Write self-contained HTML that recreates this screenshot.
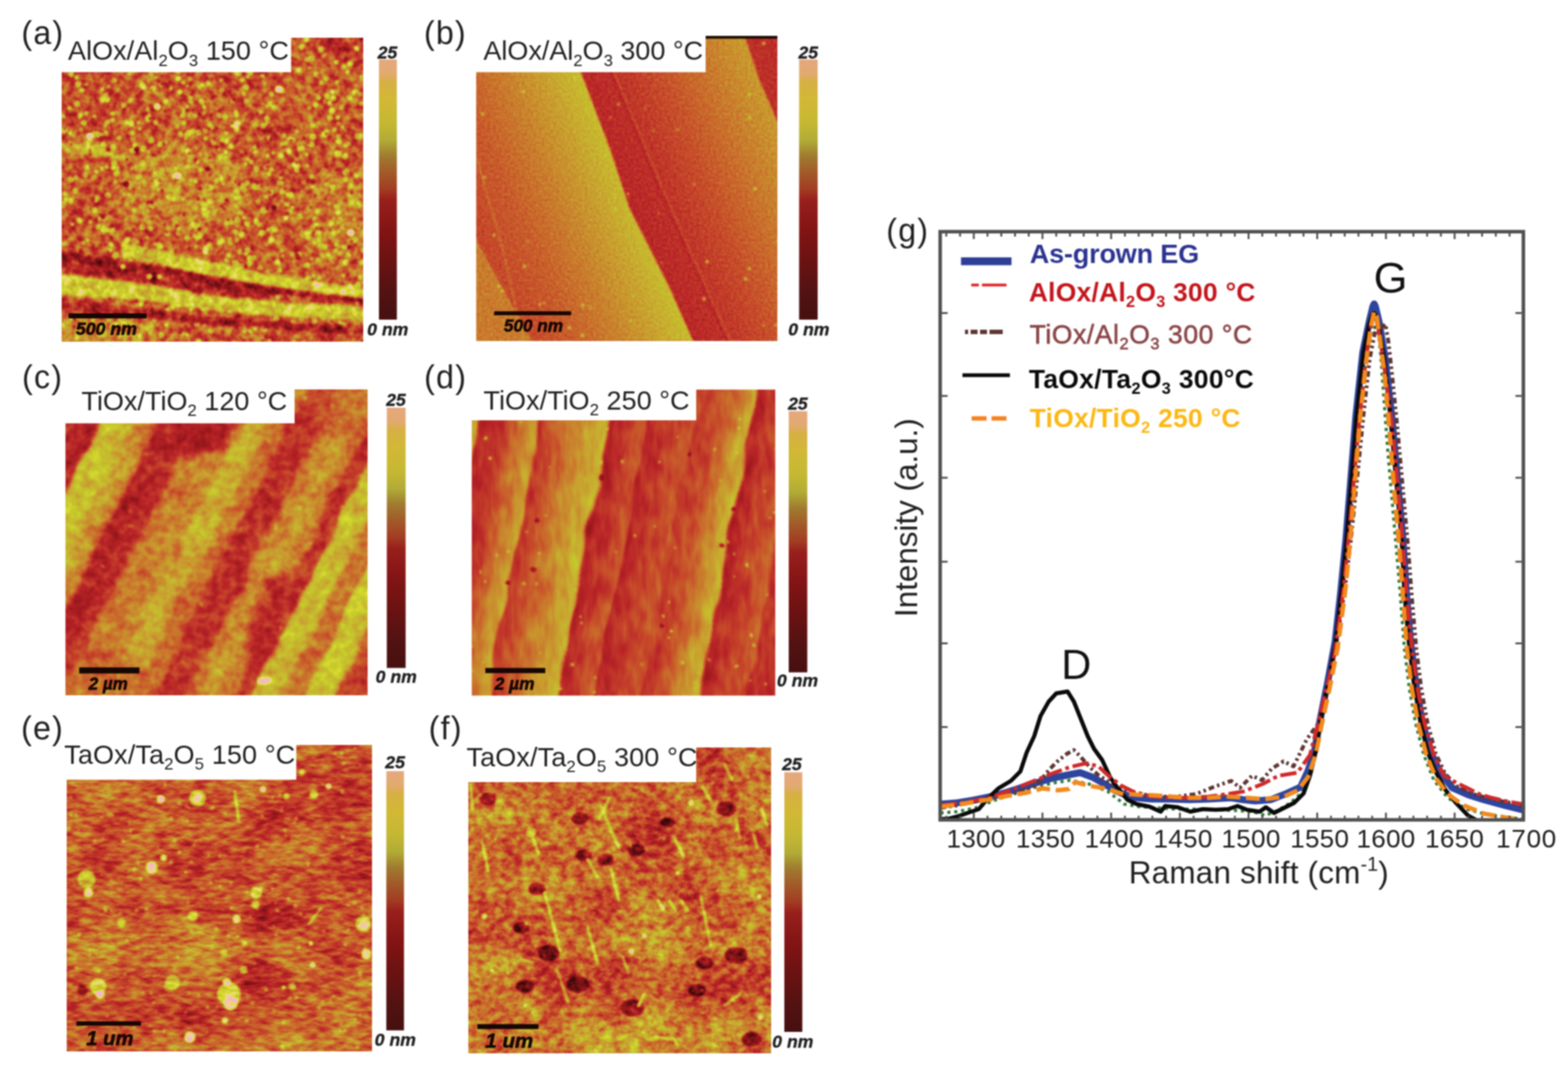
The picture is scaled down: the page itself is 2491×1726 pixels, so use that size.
<!DOCTYPE html>
<html lang="en"><head><meta charset="utf-8"><title>AFM and Raman figure</title>
<style>html,body{margin:0;padding:0;background:#fff}body{width:2491px;height:1726px;overflow:hidden}svg{display:block}text{font-family:'Liberation Sans', Arial, Helvetica, sans-serif;fill:#202020}</style></head><body>
<svg width="2491" height="1726" viewBox="0 0 2491 1726" role="img" aria-label="AFM images of oxide films on epitaxial graphene and Raman spectra">
<defs>
<filter id="gsoft" x="0" y="0" width="2491" height="1726" filterUnits="userSpaceOnUse" color-interpolation-filters="sRGB"><feGaussianBlur stdDeviation="0.9"/></filter>
<linearGradient id="cbar" x1="0" y1="0" x2="0" y2="1"><stop offset="0" stop-color="#e6a87e"/><stop offset="0.055" stop-color="#e2aa70"/><stop offset="0.085" stop-color="#d6b044"/><stop offset="0.15" stop-color="#d2b836"/><stop offset="0.24" stop-color="#c6b832"/><stop offset="0.31" stop-color="#b2ac36"/><stop offset="0.37" stop-color="#a07c30"/><stop offset="0.43" stop-color="#a25c2a"/><stop offset="0.50" stop-color="#a23c22"/><stop offset="0.54" stop-color="#98201c"/><stop offset="0.66" stop-color="#821414"/><stop offset="0.80" stop-color="#661212"/><stop offset="0.90" stop-color="#521212"/><stop offset="1" stop-color="#461010"/></linearGradient>
<filter id="soft2" x="-10%" y="-10%" width="120%" height="120%" color-interpolation-filters="sRGB"><feGaussianBlur stdDeviation="2"/></filter><filter id="soft3" x="-10%" y="-10%" width="120%" height="120%" color-interpolation-filters="sRGB"><feGaussianBlur stdDeviation="3"/></filter><filter id="soft5" x="-10%" y="-10%" width="120%" height="120%" color-interpolation-filters="sRGB"><feGaussianBlur stdDeviation="5"/></filter><filter id="soft8" x="-10%" y="-10%" width="120%" height="120%" color-interpolation-filters="sRGB"><feGaussianBlur stdDeviation="8"/></filter><filter id="soft30" x="-10%" y="-10%" width="120%" height="120%" color-interpolation-filters="sRGB"><feGaussianBlur stdDeviation="30"/></filter><filter id="fa" x="-40" y="-40" width="559" height="563" filterUnits="userSpaceOnUse" color-interpolation-filters="sRGB">
<feGaussianBlur in="SourceGraphic" stdDeviation="1.25" result="src"/>
<feTurbulence type="fractalNoise" baseFrequency="0.085" numOctaves="2" seed="7" result="n"/>
<feColorMatrix in="n" type="matrix" values="1 0 0 0 0  1 0 0 0 0  1 0 0 0 0  0 0 0 0 1" result="ng0"/>
<feColorMatrix in="ng0" type="matrix" values="1 0 0 0 0  0 1 0 0 0  0 0 1 0 0  0 0 0 1 0" result="ng"/>
<feComposite in="src" in2="ng" operator="arithmetic" k1="0" k2="1" k3="0.583" k4="-0.292" result="h1"/>
<feTurbulence type="fractalNoise" baseFrequency="0.025" numOctaves="2" seed="19" result="n2"/>
<feColorMatrix in="n2" type="matrix" values="1 0 0 0 0  1 0 0 0 0  1 0 0 0 0  0 0 0 0 1" result="ng2"/>
<feComposite in="h1" in2="ng2" operator="arithmetic" k1="0" k2="1" k3="0.292" k4="-0.146" result="h2"/>
<feGaussianBlur in="h2" stdDeviation="0.75" result="hb"/>
<feComponentTransfer in="hb"><feFuncR type="table" tableValues="0.220 0.286 0.353 0.427 0.502 0.569 0.635 0.682 0.729 0.753 0.776 0.784 0.792 0.792 0.792 0.788 0.784 0.780 0.776 0.820 0.863 0.902 0.941 0.949 0.957"/><feFuncG type="table" tableValues="0.031 0.043 0.055 0.067 0.078 0.090 0.102 0.125 0.149 0.212 0.275 0.345 0.416 0.486 0.557 0.620 0.682 0.733 0.784 0.824 0.863 0.855 0.847 0.784 0.722"/><feFuncB type="table" tableValues="0.031 0.047 0.063 0.078 0.094 0.106 0.118 0.137 0.157 0.161 0.165 0.169 0.173 0.176 0.180 0.184 0.188 0.180 0.173 0.180 0.188 0.376 0.565 0.659 0.753"/><feFuncA type="linear" slope="0" intercept="1"/></feComponentTransfer>
</filter>
<filter id="fb" x="-40" y="-40" width="558.5" height="565" filterUnits="userSpaceOnUse" color-interpolation-filters="sRGB">
<feGaussianBlur in="SourceGraphic" stdDeviation="1.6" result="src"/>
<feTurbulence type="fractalNoise" baseFrequency="0.22" numOctaves="2" seed="3" result="n"/>
<feColorMatrix in="n" type="matrix" values="1 0 0 0 0  1 0 0 0 0  1 0 0 0 0  0 0 0 0 1" result="ng0"/>
<feColorMatrix in="ng0" type="matrix" values="1 0 0 0 0  0 1 0 0 0  0 0 1 0 0  0 0 0 1 0" result="ng"/>
<feComposite in="src" in2="ng" operator="arithmetic" k1="0" k2="1" k3="0.167" k4="-0.083" result="h1"/>
<feComponentTransfer in="h1"><feFuncR type="table" tableValues="0.220 0.286 0.353 0.427 0.502 0.569 0.635 0.682 0.729 0.753 0.776 0.784 0.792 0.792 0.792 0.788 0.784 0.780 0.776 0.820 0.863 0.902 0.941 0.949 0.957"/><feFuncG type="table" tableValues="0.031 0.043 0.055 0.067 0.078 0.090 0.102 0.125 0.149 0.212 0.275 0.345 0.416 0.486 0.557 0.620 0.682 0.733 0.784 0.824 0.863 0.855 0.847 0.784 0.722"/><feFuncB type="table" tableValues="0.031 0.047 0.063 0.078 0.094 0.106 0.118 0.137 0.157 0.161 0.165 0.169 0.173 0.176 0.180 0.184 0.188 0.180 0.173 0.180 0.188 0.376 0.565 0.659 0.753"/><feFuncA type="linear" slope="0" intercept="1"/></feComponentTransfer>
</filter><linearGradient id="bL" gradientUnits="userSpaceOnUse" x1="-20" y1="340" x2="290" y2="211"><stop offset="0" stop-color="#646464"/><stop offset="0.3" stop-color="#777777"/><stop offset="0.5" stop-color="#8c8c8c"/><stop offset="0.68" stop-color="#a2a2a2"/><stop offset="0.82" stop-color="#b5b5b5"/><stop offset="1" stop-color="#c8c8c8"/></linearGradient><linearGradient id="bR" gradientUnits="userSpaceOnUse" x1="225" y1="285" x2="540" y2="154"><stop offset="0" stop-color="#515151"/><stop offset="0.22" stop-color="#5b5b5b"/><stop offset="0.42" stop-color="#6e6e6e"/><stop offset="0.65" stop-color="#888888"/><stop offset="0.85" stop-color="#9d9d9d"/><stop offset="1" stop-color="#aaaaaa"/></linearGradient>
<filter id="fc" x="-40" y="-40" width="559.5" height="565" filterUnits="userSpaceOnUse" color-interpolation-filters="sRGB">
<feGaussianBlur in="SourceGraphic" stdDeviation="2" result="src"/>
<feTurbulence type="fractalNoise" baseFrequency="0.014" numOctaves="2" seed="4" result="dn"/>
<feDisplacementMap in="src" in2="dn" scale="16" xChannelSelector="R" yChannelSelector="G" result="srcd"/>
<feTurbulence type="fractalNoise" baseFrequency="0.07" numOctaves="2" seed="11" result="n"/>
<feColorMatrix in="n" type="matrix" values="1 0 0 0 0  1 0 0 0 0  1 0 0 0 0  0 0 0 0 1" result="ng0"/>
<feColorMatrix in="ng0" type="matrix" values="1 0 0 0 0  0 1 0 0 0  0 0 1 0 0  0 0 0 1 0" result="ng"/>
<feComposite in="srcd" in2="ng" operator="arithmetic" k1="0" k2="1" k3="0.300" k4="-0.150" result="h1"/>
<feTurbulence type="fractalNoise" baseFrequency="0.02" numOctaves="2" seed="5" result="n2"/>
<feColorMatrix in="n2" type="matrix" values="1 0 0 0 0  1 0 0 0 0  1 0 0 0 0  0 0 0 0 1" result="ng2"/>
<feComposite in="h1" in2="ng2" operator="arithmetic" k1="0" k2="1" k3="0.183" k4="-0.092" result="h2"/>
<feComponentTransfer in="h2"><feFuncR type="table" tableValues="0.220 0.286 0.353 0.427 0.502 0.569 0.635 0.682 0.729 0.753 0.776 0.784 0.792 0.792 0.792 0.788 0.784 0.780 0.776 0.820 0.863 0.902 0.941 0.949 0.957"/><feFuncG type="table" tableValues="0.031 0.043 0.055 0.067 0.078 0.090 0.102 0.125 0.149 0.212 0.275 0.345 0.416 0.486 0.557 0.620 0.682 0.733 0.784 0.824 0.863 0.855 0.847 0.784 0.722"/><feFuncB type="table" tableValues="0.031 0.047 0.063 0.078 0.094 0.106 0.118 0.137 0.157 0.161 0.165 0.169 0.173 0.176 0.180 0.184 0.188 0.180 0.173 0.180 0.188 0.376 0.565 0.659 0.753"/><feFuncA type="linear" slope="0" intercept="1"/></feComponentTransfer>
</filter><linearGradient id="cS" gradientUnits="userSpaceOnUse" x1="-400" y1="0" x2="3600" y2="0"><stop offset="0.0000" stop-color="#757575"/><stop offset="0.1150" stop-color="#6a6a6a"/><stop offset="0.1250" stop-color="#515151"/><stop offset="0.1725" stop-color="#515151"/><stop offset="0.1812" stop-color="#bfbfbf"/><stop offset="0.2250" stop-color="#b7b7b7"/><stop offset="0.2500" stop-color="#9d9d9d"/><stop offset="0.2800" stop-color="#8c8c8c"/><stop offset="0.2913" stop-color="#4c4c4c"/><stop offset="0.3500" stop-color="#575757"/><stop offset="0.3613" stop-color="#888888"/><stop offset="0.4375" stop-color="#959595"/><stop offset="0.4500" stop-color="#aaaaaa"/><stop offset="0.4850" stop-color="#a6a6a6"/><stop offset="0.4963" stop-color="#888888"/><stop offset="0.5250" stop-color="#7b7b7b"/><stop offset="0.5337" stop-color="#595959"/><stop offset="0.5875" stop-color="#626262"/><stop offset="0.5988" stop-color="#888888"/><stop offset="0.6375" stop-color="#9d9d9d"/><stop offset="0.6750" stop-color="#848484"/><stop offset="0.6875" stop-color="#5b5b5b"/><stop offset="0.7100" stop-color="#606060"/><stop offset="0.7163" stop-color="#bbbbbb"/><stop offset="0.7625" stop-color="#aeaeae"/><stop offset="0.7750" stop-color="#888888"/><stop offset="0.8100" stop-color="#848484"/><stop offset="0.8163" stop-color="#bfbfbf"/><stop offset="0.8625" stop-color="#b5b5b5"/><stop offset="0.8750" stop-color="#6a6a6a"/><stop offset="1.0000" stop-color="#6a6a6a"/></linearGradient>
<filter id="fd" x="-40" y="-40" width="562.1" height="566.1" filterUnits="userSpaceOnUse" color-interpolation-filters="sRGB">
<feGaussianBlur in="SourceGraphic" stdDeviation="1.6" result="src"/>
<feTurbulence type="fractalNoise" baseFrequency="0.011" numOctaves="2" seed="8" result="dn"/>
<feDisplacementMap in="src" in2="dn" scale="24" xChannelSelector="R" yChannelSelector="G" result="srcd"/>
<feTurbulence type="fractalNoise" baseFrequency="0.09 0.03" numOctaves="2" seed="5" result="n"/>
<feColorMatrix in="n" type="matrix" values="1 0 0 0 0  1 0 0 0 0  1 0 0 0 0  0 0 0 0 1" result="ng0"/>
<feColorMatrix in="ng0" type="matrix" values="1 0 0 0 0  0 1 0 0 0  0 0 1 0 0  0 0 0 1 0" result="ng"/>
<feComposite in="srcd" in2="ng" operator="arithmetic" k1="0" k2="1" k3="0.183" k4="-0.092" result="h1"/>
<feTurbulence type="fractalNoise" baseFrequency="0.02" numOctaves="2" seed="15" result="n2"/>
<feColorMatrix in="n2" type="matrix" values="1 0 0 0 0  1 0 0 0 0  1 0 0 0 0  0 0 0 0 1" result="ng2"/>
<feComposite in="h1" in2="ng2" operator="arithmetic" k1="0" k2="1" k3="0.117" k4="-0.058" result="h2"/>
<feComponentTransfer in="h2"><feFuncR type="table" tableValues="0.220 0.286 0.353 0.427 0.502 0.569 0.635 0.682 0.729 0.753 0.776 0.784 0.792 0.792 0.792 0.788 0.784 0.780 0.776 0.820 0.863 0.902 0.941 0.949 0.957"/><feFuncG type="table" tableValues="0.031 0.043 0.055 0.067 0.078 0.090 0.102 0.125 0.149 0.212 0.275 0.345 0.416 0.486 0.557 0.620 0.682 0.733 0.784 0.824 0.863 0.855 0.847 0.784 0.722"/><feFuncB type="table" tableValues="0.031 0.047 0.063 0.078 0.094 0.106 0.118 0.137 0.157 0.161 0.165 0.169 0.173 0.176 0.180 0.184 0.188 0.180 0.173 0.180 0.188 0.376 0.565 0.659 0.753"/><feFuncA type="linear" slope="0" intercept="1"/></feComponentTransfer>
</filter><linearGradient id="dS" gradientUnits="userSpaceOnUse" x1="-150" y1="0" x2="700" y2="0"><stop offset="0.0000" stop-color="#6a6a6a"/><stop offset="0.1976" stop-color="#a6a6a6"/><stop offset="0.2047" stop-color="#515151"/><stop offset="0.2412" stop-color="#595959"/><stop offset="0.2706" stop-color="#7b7b7b"/><stop offset="0.2941" stop-color="#919191"/><stop offset="0.3129" stop-color="#a2a2a2"/><stop offset="0.3188" stop-color="#5e5e5e"/><stop offset="0.3412" stop-color="#6e6e6e"/><stop offset="0.3706" stop-color="#848484"/><stop offset="0.4000" stop-color="#999999"/><stop offset="0.4400" stop-color="#aeaeae"/><stop offset="0.4471" stop-color="#4c4c4c"/><stop offset="0.4706" stop-color="#5e5e5e"/><stop offset="0.5129" stop-color="#777777"/><stop offset="0.5188" stop-color="#515151"/><stop offset="0.5529" stop-color="#626262"/><stop offset="0.6000" stop-color="#737373"/><stop offset="0.6059" stop-color="#606060"/><stop offset="0.6471" stop-color="#737373"/><stop offset="0.6765" stop-color="#919191"/><stop offset="0.7059" stop-color="#aeaeae"/><stop offset="0.7129" stop-color="#4c4c4c"/><stop offset="0.7365" stop-color="#5e5e5e"/><stop offset="0.7965" stop-color="#7b7b7b"/><stop offset="0.8035" stop-color="#595959"/><stop offset="1.0000" stop-color="#6a6a6a"/></linearGradient>
<filter id="fe" x="-40" y="-40" width="564.5" height="566.5" filterUnits="userSpaceOnUse" color-interpolation-filters="sRGB">
<feGaussianBlur in="SourceGraphic" stdDeviation="1.4" result="src"/>
<feTurbulence type="fractalNoise" baseFrequency="0.05 0.13" numOctaves="3" seed="21" result="n"/>
<feColorMatrix in="n" type="matrix" values="1 0 0 0 0  1 0 0 0 0  1 0 0 0 0  0 0 0 0 1" result="ng0"/>
<feColorMatrix in="ng0" type="matrix" values="1 0 0 0 0  0 1 0 0 0  0 0 1 0 0  0 0 0 1 0" result="ng"/>
<feComposite in="src" in2="ng" operator="arithmetic" k1="0" k2="1" k3="0.517" k4="-0.258" result="h1"/>
<feTurbulence type="fractalNoise" baseFrequency="0.012 0.02" numOctaves="2" seed="3" result="n2"/>
<feColorMatrix in="n2" type="matrix" values="1 0 0 0 0  1 0 0 0 0  1 0 0 0 0  0 0 0 0 1" result="ng2"/>
<feComposite in="h1" in2="ng2" operator="arithmetic" k1="0" k2="1" k3="0.375" k4="-0.188" result="h2"/>
<feGaussianBlur in="h2" stdDeviation="0.7" result="hb"/>
<feComponentTransfer in="hb"><feFuncR type="table" tableValues="0.220 0.286 0.353 0.427 0.502 0.569 0.635 0.682 0.729 0.753 0.776 0.784 0.792 0.792 0.792 0.788 0.784 0.780 0.776 0.820 0.863 0.902 0.941 0.949 0.957"/><feFuncG type="table" tableValues="0.031 0.043 0.055 0.067 0.078 0.090 0.102 0.125 0.149 0.212 0.275 0.345 0.416 0.486 0.557 0.620 0.682 0.733 0.784 0.824 0.863 0.855 0.847 0.784 0.722"/><feFuncB type="table" tableValues="0.031 0.047 0.063 0.078 0.094 0.106 0.118 0.137 0.157 0.161 0.165 0.169 0.173 0.176 0.180 0.184 0.188 0.180 0.173 0.180 0.188 0.376 0.565 0.659 0.753"/><feFuncA type="linear" slope="0" intercept="1"/></feComponentTransfer>
</filter>
<filter id="ff" x="-40" y="-40" width="560" height="565.5" filterUnits="userSpaceOnUse" color-interpolation-filters="sRGB">
<feGaussianBlur in="SourceGraphic" stdDeviation="1.5" result="src"/>
<feTurbulence type="fractalNoise" baseFrequency="0.07 0.09" numOctaves="3" seed="31" result="n"/>
<feColorMatrix in="n" type="matrix" values="1 0 0 0 0  1 0 0 0 0  1 0 0 0 0  0 0 0 0 1" result="ng0"/>
<feColorMatrix in="ng0" type="matrix" values="1 0 0 0 0  0 1 0 0 0  0 0 1 0 0  0 0 0 1 0" result="ng"/>
<feComposite in="src" in2="ng" operator="arithmetic" k1="0" k2="1" k3="0.583" k4="-0.292" result="h1"/>
<feTurbulence type="fractalNoise" baseFrequency="0.012" numOctaves="2" seed="9" result="n2"/>
<feColorMatrix in="n2" type="matrix" values="1 0 0 0 0  1 0 0 0 0  1 0 0 0 0  0 0 0 0 1" result="ng2"/>
<feComposite in="h1" in2="ng2" operator="arithmetic" k1="0" k2="1" k3="0.417" k4="-0.208" result="h2"/>
<feGaussianBlur in="h2" stdDeviation="0.7" result="hb"/>
<feComponentTransfer in="hb"><feFuncR type="table" tableValues="0.220 0.286 0.353 0.427 0.502 0.569 0.635 0.682 0.729 0.753 0.776 0.784 0.792 0.792 0.792 0.788 0.784 0.780 0.776 0.820 0.863 0.902 0.941 0.949 0.957"/><feFuncG type="table" tableValues="0.031 0.043 0.055 0.067 0.078 0.090 0.102 0.125 0.149 0.212 0.275 0.345 0.416 0.486 0.557 0.620 0.682 0.733 0.784 0.824 0.863 0.855 0.847 0.784 0.722"/><feFuncB type="table" tableValues="0.031 0.047 0.063 0.078 0.094 0.106 0.118 0.137 0.157 0.161 0.165 0.169 0.173 0.176 0.180 0.184 0.188 0.180 0.173 0.180 0.188 0.376 0.565 0.659 0.753"/><feFuncA type="linear" slope="0" intercept="1"/></feComponentTransfer>
</filter>
</defs>
<g id="figure" filter="url(#gsoft)">
<rect x="0" y="0" width="2491" height="1726" fill="#fff"/>
<g id="panel-a">
<clipPath id="clipa"><rect x="0" y="0" width="478.8" height="482.5"/></clipPath>
<g transform="translate(98.2,60.5)" clip-path="url(#clipa)">
<g filter="url(#fa)">
<rect x="-40" y="-40" width="558.8" height="562.5" fill="#757575"/>
<g filter="url(#soft3)">
<polygon points="-0.0,53.2 123.6,53.2 86.5,124.3 -0.0,155.2" fill="#6e6e6e" opacity="0.8"/>
<polygon points="380.0,-20.9 503.6,-20.9 503.6,62.5 432.5,31.6" fill="#595959"/>
<polygon points="451.1,-20.9 503.6,-20.9 503.6,25.4" fill="#333333"/>
<ellipse cx="194.6" cy="241.7" rx="102.0" ry="71.1" fill="#999999" opacity="0.7"/>
<polygon points="-21.6,166.0 55.6,170.6 111.2,187.6 111.2,198.4 55.6,186.1 -21.6,183.0" fill="#bbbbbb" opacity="0.8"/>
<ellipse cx="426.3" cy="288.0" rx="61.8" ry="80.3" fill="#919191" opacity="0.6"/>
<polygon points="-21.6,439.4 148.3,451.8 148.3,504.3 -21.6,504.3" fill="#9d9d9d" opacity="0.8"/>
</g>
<path d="M311,435h0M76,385h0M296,61h0M173,80h0M27,470h0M359,408h0M4,23h0M85,38h0M330,481h0M27,442h0M236,405h0M239,163h0M345,13h0M328,304h0M226,109h0M64,153h0M114,436h0M17,296h0M168,431h0M357,285h0M425,263h0M374,439h0M478,338h0M456,344h0M140,443h0M292,200h0M298,21h0M182,35h0M359,249h0M41,322h0M326,108h0M167,186h0M189,47h0M230,367h0M205,225h0M185,425h0M122,134h0M226,456h0M12,111h0M351,346h0M235,451h0M146,25h0M193,256h0M150,63h0M276,118h0M137,180h0M389,185h0M324,138h0M366,269h0M396,351h0M464,288h0M390,202h0M296,193h0M398,236h0M260,190h0M290,466h0M75,45h0M299,466h0M260,181h0M114,321h0M212,228h0M362,430h0M319,60h0M441,452h0M336,43h0M261,353h0M230,341h0M292,383h0M430,85h0M237,420h0M454,54h0M328,45h0M124,144h0M42,170h0M307,461h0M369,162h0M196,159h0M429,244h0M199,109h0M271,140h0M55,259h0M253,67h0M64,81h0M78,337h0M25,348h0M199,471h0M294,384h0M369,404h0M256,231h0M213,331h0M125,406h0M48,178h0M216,197h0M69,139h0M71,205h0M38,73h0M148,327h0M439,307h0M446,141h0M166,456h0M289,285h0M214,354h0M136,317h0M218,16h0M119,32h0M81,130h0M274,136h0M124,221h0M99,444h0M331,38h0M223,263h0M288,311h0M49,448h0M239,142h0M333,302h0M384,400h0M153,241h0M174,0h0M69,379h0M435,438h0M117,204h0M250,177h0M435,329h0M166,166h0M15,425h0M200,76h0M292,343h0M125,37h0M276,55h0M350,169h0M327,187h0M162,188h0M123,238h0M394,47h0M415,402h0M336,182h0M205,432h0M139,123h0M55,212h0" stroke="#c6c6c6" stroke-width="6" stroke-linecap="round" fill="none" opacity="0.9"/>
<path d="M275,6h0M417,101h0M470,421h0M463,431h0M2,327h0M445,455h0M261,151h0M71,408h0M349,231h0M193,71h0M174,340h0M211,314h0M55,401h0M389,310h0M180,208h0M140,469h0M6,257h0M448,377h0M57,367h0M255,162h0M254,224h0M437,186h0M408,95h0M333,209h0M389,33h0M64,208h0M126,266h0M60,287h0M420,232h0M67,301h0M74,77h0M15,446h0M349,79h0M192,470h0M149,226h0M474,250h0M233,276h0M107,56h0M335,23h0M349,338h0M32,82h0M24,63h0M111,207h0M231,425h0M103,134h0M116,170h0M298,386h0M88,188h0M13,151h0M325,252h0M37,42h0M147,448h0M265,345h0M425,103h0M433,146h0M289,89h0M400,462h0M228,49h0M49,31h0M471,261h0M447,44h0M173,8h0M243,26h0M130,227h0M219,36h0M430,427h0M287,66h0M88,207h0M308,181h0M115,274h0M240,18h0M166,10h0M29,42h0M69,467h0M186,303h0M293,295h0M223,75h0M126,457h0M437,70h0M376,403h0M52,125h0M24,469h0M305,349h0M416,30h0M136,359h0M278,122h0M440,136h0M1,455h0M401,326h0M184,311h0M96,32h0M144,352h0M91,158h0M326,371h0M255,405h0M45,292h0M394,111h0M34,325h0M139,44h0M417,28h0M421,148h0M219,78h0M85,229h0M348,221h0M373,148h0M22,241h0M252,22h0M474,380h0M92,475h0M400,378h0M437,269h0M39,119h0M356,286h0M409,381h0M109,3h0M250,405h0M214,270h0M436,38h0M158,330h0M91,448h0M143,392h0M228,159h0M451,171h0M56,253h0M473,267h0M5,326h0M401,286h0M231,428h0M108,249h0M205,94h0M22,222h0M306,173h0M378,343h0M329,159h0M435,338h0M353,155h0M278,146h0M301,197h0M255,451h0M239,364h0M433,286h0M23,1h0M268,326h0M468,85h0M439,126h0M80,120h0M205,15h0" stroke="#c6c6c6" stroke-width="7" stroke-linecap="round" fill="none" opacity="0.9"/>
<path d="M225,119h0M31,145h0M148,395h0M377,177h0M23,476h0M194,115h0M396,220h0M377,51h0M467,219h0M278,6h0M120,324h0M458,250h0M278,321h0M93,17h0M182,295h0M194,134h0M261,164h0M459,395h0M68,288h0M460,441h0M124,473h0M235,138h0M58,300h0M140,293h0M373,206h0M339,305h0M229,265h0M158,74h0M72,305h0M208,411h0M137,113h0M196,22h0M117,24h0M29,123h0M465,87h0M150,52h0M103,8h0M117,41h0M364,277h0M158,6h0M221,209h0M367,452h0M468,16h0M5,247h0M228,339h0M332,323h0M382,175h0M293,101h0M108,30h0M200,205h0M15,56h0M349,30h0M356,40h0M142,56h0M183,140h0M334,381h0M249,24h0M130,46h0M219,185h0M373,210h0M476,105h0M369,202h0M66,169h0M271,100h0M126,423h0M25,357h0M84,67h0M329,216h0M266,320h0M303,407h0M31,346h0M473,262h0M205,101h0M450,225h0M439,277h0M366,162h0M420,64h0M408,319h0M278,359h0M51,221h0M384,230h0M105,2h0M330,105h0M423,344h0M229,388h0M440,293h0M82,206h0M391,34h0M105,321h0M45,352h0M246,227h0M72,134h0M157,331h0M241,167h0M405,275h0M314,297h0M204,64h0M209,296h0M316,118h0M84,347h0M72,4h0M355,167h0M149,135h0M129,78h0M212,124h0M345,230h0M109,237h0M346,369h0M450,214h0M412,71h0M140,303h0M210,370h0M21,432h0M3,148h0M40,206h0M14,58h0M112,151h0M100,411h0M318,24h0M112,31h0M455,168h0M133,377h0M145,293h0M234,328h0M446,300h0M474,89h0M238,203h0M178,367h0M59,461h0M358,264h0M131,1h0M109,353h0M292,462h0M276,308h0M366,343h0M349,187h0M327,132h0M98,107h0M333,89h0M79,328h0M226,427h0M200,179h0" stroke="#c6c6c6" stroke-width="8" stroke-linecap="round" fill="none" opacity="0.9"/>
<path d="M298,358h0M134,442h0M460,260h0M98,454h0M151,232h0M457,95h0M170,253h0M52,361h0M44,164h0M350,458h0M473,463h0M173,379h0M333,320h0M233,371h0M141,456h0M391,312h0M167,311h0M229,334h0M350,83h0M299,374h0M458,467h0M52,273h0M309,291h0M392,382h0M403,106h0M179,27h0M436,268h0M112,179h0M86,344h0M381,14h0M113,161h0M398,313h0M284,277h0M225,429h0M449,332h0M320,140h0M3,29h0M201,151h0M266,432h0M412,458h0M254,83h0M214,453h0M269,172h0M81,48h0M431,96h0M278,367h0M343,35h0M329,404h0M187,86h0M431,439h0M185,53h0M80,305h0M398,424h0M285,312h0M295,51h0M353,394h0M179,221h0M286,181h0M35,367h0M388,2h0M134,461h0M432,311h0M17,11h0M361,180h0M177,256h0M37,217h0M132,378h0M125,400h0M282,57h0M345,33h0M404,58h0M204,300h0M426,128h0M86,455h0M223,50h0M440,184h0M440,157h0M225,366h0M64,98h0M314,365h0M350,244h0M237,1h0M114,400h0M131,5h0M208,148h0M178,288h0M27,7h0M12,384h0M299,403h0M343,411h0M218,370h0M412,330h0M417,443h0M199,318h0M28,290h0M154,413h0M248,40h0M164,101h0M32,39h0M477,63h0M192,123h0M407,352h0M188,153h0M109,99h0M280,136h0M283,340h0M233,421h0M268,292h0M232,72h0M369,461h0M21,244h0M295,296h0M443,342h0M337,111h0M297,29h0M475,156h0M458,41h0M312,260h0M362,161h0M255,322h0M236,238h0M71,152h0M343,356h0M228,148h0M114,481h0M251,325h0M277,141h0M431,237h0M401,451h0M35,135h0M94,357h0M294,230h0M453,212h0M12,11h0M171,210h0M398,139h0M158,472h0M226,271h0M390,361h0M185,64h0M103,322h0M289,241h0M81,173h0M156,169h0M421,93h0M326,128h0M72,98h0M279,254h0M250,123h0M259,125h0M176,426h0" stroke="#c6c6c6" stroke-width="9" stroke-linecap="round" fill="none" opacity="0.9"/>
<path d="M451,357h0M14,225h0M412,18h0M440,164h0M217,482h0M130,377h0M397,169h0M417,332h0M80,404h0M67,304h0M199,154h0M140,377h0M128,75h0M121,220h0M397,32h0M12,349h0M275,358h0M287,236h0M26,73h0M466,321h0M97,19h0M115,324h0M309,208h0M45,34h0M441,289h0M299,350h0M147,217h0M42,373h0M391,316h0M57,153h0M470,405h0M155,330h0M470,393h0M321,462h0M429,115h0M128,300h0M407,311h0M110,336h0M341,446h0M237,465h0M170,356h0M142,163h0M25,105h0M198,422h0M438,183h0M374,204h0M9,400h0M73,250h0M229,281h0M215,316h0M449,458h0M144,80h0M253,188h0M143,266h0M5,21h0M220,313h0M363,249h0M236,259h0M245,450h0M130,266h0M349,50h0M214,299h0M306,236h0M97,470h0M10,427h0M79,460h0M3,265h0M399,157h0M221,47h0M137,128h0M52,364h0M332,246h0M403,299h0M299,54h0M177,378h0M450,188h0M83,199h0M137,17h0M278,243h0M293,78h0M477,357h0M5,147h0M458,235h0M110,136h0M295,337h0M204,441h0M414,345h0M269,24h0M320,274h0M418,153h0M1,125h0M217,150h0M33,41h0M22,429h0M87,215h0M64,457h0M469,156h0M128,199h0M286,363h0M54,18h0M82,427h0M308,139h0M279,289h0M297,412h0M378,284h0M263,293h0M314,237h0M325,205h0M13,259h0M318,310h0M327,34h0M70,92h0M116,178h0M92,437h0M428,294h0M130,176h0M222,101h0M51,153h0M173,403h0M128,413h0M445,110h0" stroke="#c6c6c6" stroke-width="10" stroke-linecap="round" fill="none" opacity="0.9"/>
<path d="M48,121h0M80,299h0M77,189h0M84,462h0M338,74h0M340,451h0M190,58h0M211,420h0M239,461h0M226,140h0M208,115h0M159,60h0M454,152h0M232,238h0M463,94h0M441,17h0M159,73h0M393,403h0M185,225h0M370,143h0M307,356h0M464,197h0M163,177h0M419,257h0M235,208h0M91,140h0M160,242h0M140,271h0M448,247h0M228,97h0M373,199h0M461,71h0M14,169h0M342,103h0M219,120h0M224,359h0" stroke="#404040" stroke-width="4" stroke-linecap="round" fill="none" opacity="0.7"/>
<path d="M264,289h0M21,35h0M396,269h0M69,359h0M348,353h0M202,183h0M302,40h0M277,381h0M120,182h0M133,166h0M238,95h0M400,309h0M143,227h0M300,424h0M70,329h0M235,218h0M68,357h0M99,341h0M318,64h0M375,345h0M303,447h0M50,330h0M374,350h0M235,191h0M119,385h0M108,431h0M323,475h0M260,264h0M177,324h0M142,83h0M408,118h0M238,64h0M460,323h0M336,363h0M18,136h0M50,9h0M246,174h0M70,397h0M477,118h0M273,406h0M292,363h0M476,302h0M95,237h0M98,458h0M390,402h0M1,129h0M416,306h0M165,335h0M56,264h0M201,58h0M404,86h0M118,418h0M95,232h0M130,102h0M232,16h0M460,246h0M219,337h0M194,280h0M167,308h0M66,382h0M254,267h0M158,20h0M13,307h0M226,256h0M225,39h0M278,445h0M205,90h0M404,402h0M140,128h0M13,353h0M147,127h0M14,123h0M138,260h0M271,135h0M341,201h0M165,427h0M195,63h0M80,146h0M100,15h0M371,34h0M143,431h0M354,239h0M163,297h0M143,261h0M58,431h0M471,299h0M420,152h0M384,159h0M382,429h0M326,391h0M281,398h0M109,264h0M149,407h0M74,454h0M307,153h0M209,343h0M276,229h0M87,165h0M99,417h0M289,392h0M365,31h0" stroke="#404040" stroke-width="5" stroke-linecap="round" fill="none" opacity="0.7"/>
<path d="M3,226h0M456,332h0M289,482h0M399,314h0M437,210h0M201,446h0M286,186h0M266,85h0M114,304h0M258,271h0M474,446h0M222,112h0M384,65h0M392,166h0M450,34h0M182,225h0M412,304h0M87,388h0M256,466h0M127,330h0M374,187h0M199,116h0M364,163h0M203,334h0M348,218h0M20,459h0M47,98h0M243,361h0M66,361h0M145,186h0M62,455h0M108,413h0M374,480h0M252,15h0M218,304h0M234,436h0M375,350h0M12,86h0M340,171h0M78,317h0M375,272h0M327,271h0M73,395h0M357,270h0M364,142h0M243,27h0M4,144h0M319,452h0M330,245h0M243,93h0M327,205h0M61,222h0M389,407h0M100,114h0M337,19h0M382,397h0M358,402h0M332,161h0M306,106h0M398,229h0M403,250h0M222,115h0M164,116h0M182,298h0M272,467h0M242,402h0M191,91h0M282,233h0M429,451h0M45,179h0M29,195h0M281,441h0M343,34h0M262,257h0M250,116h0M103,193h0M357,436h0M398,312h0M405,302h0M273,98h0M382,409h0M433,125h0M272,25h0M88,363h0M269,91h0M359,279h0M212,193h0M45,185h0" stroke="#404040" stroke-width="6" stroke-linecap="round" fill="none" opacity="0.7"/>
<path d="M220,239h0M318,236h0M479,481h0M314,418h0M117,119h0M93,375h0M478,288h0M30,338h0M36,70h0M156,226h0M60,422h0M290,145h0M73,178h0M141,215h0M209,83h0M105,157h0M35,35h0M188,468h0M27,436h0M466,27h0M230,297h0M152,67h0M329,312h0M66,284h0M217,256h0M52,65h0M39,440h0M64,40h0M63,380h0M327,405h0M78,278h0M430,18h0M3,59h0M20,445h0M353,23h0" stroke="#404040" stroke-width="7" stroke-linecap="round" fill="none" opacity="0.7"/>
<g filter="url(#soft2)" opacity="0.9">
<polygon points="95.8,325.1 210.1,349.8 302.8,369.9 503.6,402.3 503.6,414.7 395.4,402.9 302.8,389.3 210.1,372.0 95.8,346.7" fill="#cecece"/>
<polygon points="420.2,394.6 503.6,407.0 503.6,415.3 420.2,407.0" fill="#eeeeee"/>
<polygon points="-21.6,334.4 117.4,356.6 210.1,372.7 302.8,390.6 395.4,403.6 503.6,416.5 503.6,423.3 395.4,411.6 333.7,407.0 271.9,400.8 210.1,386.9 117.4,369.9 -21.6,352.9" fill="#333333"/>
<polygon points="-21.6,352.9 117.4,369.9 210.1,386.9 271.9,400.8 333.7,407.0 333.7,417.8 241.0,408.5 117.4,386.9 -21.6,373.0" fill="#484848"/>
<polygon points="-21.6,373.9 117.4,388.4 241.0,410.0 364.5,422.4 503.6,427.0 503.6,448.7 364.5,444.0 241.0,433.2 117.4,414.7 -21.6,408.5" fill="#cccccc"/>
<polygon points="-21.6,410.0 148.3,431.7 271.9,446.2 503.6,459.5 503.6,473.4 271.9,457.9 148.3,447.1 -21.6,431.7" fill="#464646"/>
</g>
<circle cx="151.4" cy="109.4" r="5.6" fill="#ffffff"/>
<circle cx="344.5" cy="81.0" r="5.6" fill="#ffffff"/>
<circle cx="44.8" cy="155.8" r="5.3" fill="#ffffff"/>
<circle cx="184.7" cy="218.5" r="5.6" fill="#ffffff"/>
<circle cx="458.8" cy="309.6" r="5.6" fill="#ffffff"/>
<circle cx="118.9" cy="176.8" r="4.3" fill="#1a1a1a" opacity="0.85"/>
<circle cx="231.7" cy="207.7" r="3.7" fill="#1a1a1a" opacity="0.85"/>
<circle cx="101.9" cy="232.4" r="4.9" fill="#1a1a1a" opacity="0.85"/>
<circle cx="336.7" cy="269.5" r="4.3" fill="#1a1a1a" opacity="0.85"/>
<circle cx="139.0" cy="379.2" r="4.6" fill="#d0d0d0"/>
<circle cx="154.5" cy="379.2" r="4.0" fill="#d0d0d0"/>
<circle cx="97.3" cy="363.7" r="4.0" fill="#d0d0d0"/>
</g>

</g>
<rect x="96" y="58" width="366.5" height="56.7" fill="#fff"/>
<text x="108" y="95.4" font-size="42.9" textLength="351" lengthAdjust="spacing">AlOx/Al<tspan font-size="26.598" dy="9.438">2</tspan><tspan dy="-9.438">O</tspan><tspan font-size="26.598" dy="9.438">3</tspan><tspan dy="-9.438"> 150 °C</tspan></text>
<text x="34" y="70.3" font-size="51" letter-spacing="2" >(a)</text>
<rect x="109" y="498" width="124" height="8" fill="#160604"/>
<text x="120.5" y="531.6" font-size="28" font-weight="bold" font-style="italic" textLength="97" lengthAdjust="spacingAndGlyphs" style="fill:#170602;stroke:#170602;stroke-width:0.9px">500 nm</text>
<rect x="602" y="94.6" width="28.5" height="413.4" fill="url(#cbar)"/>
<text x="615.5" y="92.8" font-size="28" font-weight="bold" font-style="italic" text-anchor="middle" style="stroke:#202020;stroke-width:0.5px">25</text>
<text x="616" y="532.5" font-size="28" font-weight="bold" font-style="italic" text-anchor="middle" style="stroke:#202020;stroke-width:0.5px">0 nm</text>
</g>
<g id="panel-b">
<clipPath id="clipb"><rect x="0" y="0" width="478.5" height="485"/></clipPath>
<g transform="translate(756.5,57)" clip-path="url(#clipb)">
<g filter="url(#fb)">
<rect x="-40" y="-40" width="558.5" height="565" fill="#808080"/>
<rect x="0" y="0" width="478.5" height="485" fill="url(#bR)"/>
<polygon points="0.0,0.0 150.0,0.0 166.0,57.0 213.0,181.0 244.0,275.0 275.5,337.6 307.0,400.0 344.5,485.0 0.0,485.0" fill="url(#bL)"/>
<polygon points="-40.0,250.0 -40.0,525.0 110.0,525.0" fill="#a2a2a2" opacity="0.6"/>
<polygon points="413.0,-40.0 518.5,-40.0 518.5,230.0 450.0,70.0" fill="#5b5b5b"/>
<path d="M213.0,57.0 L291.0,244.0 L398.0,485.0" stroke="#4c4c4c" stroke-width="3" stroke-linecap="round" stroke-linejoin="round" fill="none" opacity="0.8"/>
<path d="M219.0,57.0 L297.0,244.0 L404.0,485.0" stroke="#848484" stroke-width="2.5" stroke-linecap="round" stroke-linejoin="round" fill="none" opacity="0.6"/>
<path d="M0.0,190.0 L40.0,330.0 L75.0,485.0" stroke="#aaaaaa" stroke-width="2" stroke-linecap="round" stroke-linejoin="round" fill="none" opacity="0.5"/>
<path d="M457,460h0M290,282h0M213,130h0M268,115h0M478,327h0M346,236h0M155,339h0M281,151h0M108,425h0M82,326h0M294,360h0" stroke="#d4d4d4" stroke-width="3" stroke-linecap="round" fill="none" opacity="0.8"/>
<path d="M320,149h0M476,460h0M13,225h0M182,433h0M156,66h0M221,257h0M241,251h0M245,453h0M28,317h0M250,414h0M101,427h0M343,15h0M72,18h0M161,15h0M226,109h0" stroke="#d4d4d4" stroke-width="4" stroke-linecap="round" fill="none" opacity="0.8"/>
<path d="M41,405h0M206,191h0M428,386h0M434,370h0M169,476h0M77,366h0M443,243h0M169,428h0M221,275h0M434,130h0M148,464h0M36,398h0M434,93h0M457,12h0M10,124h0M75,89h0M184,21h0M367,359h0M362,418h0" stroke="#d4d4d4" stroke-width="5" stroke-linecap="round" fill="none" opacity="0.8"/>
</g>
<rect x="364" y="0" width="114.5" height="4.5" fill="#1a0d08"/>
</g>
<rect x="754" y="55" width="367" height="59.7" fill="#fff"/>
<text x="768" y="95.2" font-size="42.9" textLength="349" lengthAdjust="spacing">AlOx/Al<tspan font-size="26.598" dy="9.438">2</tspan><tspan dy="-9.438">O</tspan><tspan font-size="26.598" dy="9.438">3</tspan><tspan dy="-9.438"> 300 °C</tspan></text>
<text x="673.5" y="70.3" font-size="51" letter-spacing="2" >(b)</text>
<rect x="785" y="494.7" width="122.3" height="6.3" fill="#160604"/>
<text x="800.5" y="527" font-size="27" font-weight="bold" font-style="italic" textLength="94" lengthAdjust="spacingAndGlyphs" style="fill:#170602;stroke:#170602;stroke-width:0.9px">500 nm</text>
<rect x="1269.5" y="94.6" width="29.5" height="413.4" fill="url(#cbar)"/>
<text x="1284" y="93" font-size="28" font-weight="bold" font-style="italic" text-anchor="middle" style="stroke:#202020;stroke-width:0.5px">25</text>
<text x="1285" y="532.5" font-size="28" font-weight="bold" font-style="italic" text-anchor="middle" style="stroke:#202020;stroke-width:0.5px">0 nm</text>
</g>
<g id="panel-c">
<clipPath id="clipc"><rect x="0" y="0" width="479.5" height="484.9"/></clipPath>
<g transform="translate(104.5,619.3)" clip-path="url(#clipc)">
<g filter="url(#fc)">
<rect x="-40" y="-40" width="559.5" height="564.9" fill="#7b7b7b"/>
<g transform="translate(-4.5,40.7) scale(0.21268)">
<g transform="matrix(1 0 -0.5 1 0 0)"><rect x="-400" y="-400" width="4000" height="2800" fill="url(#cS)"/></g>
<g filter="url(#soft30)">
<polygon points="640.0,-300.0 1500.0,-300.0 1360.0,40.0 1200.0,250.0 900.0,330.0 720.0,330.0" fill="#4f4f4f"/>
<polygon points="1520.0,1200.0 1700.0,1200.0 1620.0,1500.0 1560.0,1800.0 1380.0,1800.0 1420.0,1500.0" fill="#4c4c4c" opacity="0.9"/>
<polygon points="-100.0,1650.0 600.0,1800.0 620.0,2300.0 -100.0,2300.0" fill="#737373" opacity="0.6"/>
<polygon points="1800.0,-300.0 2400.0,-300.0 2400.0,100.0 1900.0,200.0" fill="#757575" opacity="0.6"/>
</g></g>
<path d="M222,181h0M75,115h0M348,205h0M97,4h0M259,8h0M191,310h0M477,484h0M473,279h0M43,305h0M291,6h0M463,172h0M269,67h0M267,337h0M184,430h0M237,48h0" stroke="#d4d4d4" stroke-width="3" stroke-linecap="round" fill="none" opacity="0.8"/>
<path d="M416,3h0M431,39h0M296,20h0M243,448h0M49,141h0M128,102h0M422,27h0M236,11h0M435,54h0M238,447h0M278,84h0M460,26h0M291,72h0M338,461h0M293,21h0M280,219h0M383,159h0M102,215h0M119,358h0M111,467h0M179,417h0M100,189h0" stroke="#d4d4d4" stroke-width="4" stroke-linecap="round" fill="none" opacity="0.8"/>
<path d="M337,219h0M371,186h0M388,97h0M58,281h0M323,286h0M42,168h0M376,12h0M387,241h0M320,83h0M124,24h0M83,459h0M216,341h0M343,374h0" stroke="#d4d4d4" stroke-width="5" stroke-linecap="round" fill="none" opacity="0.8"/>
<ellipse cx="318.0" cy="462.4" rx="13.0" ry="6.2" fill="#ffffff"/>
</g>

</g>
<rect x="102" y="617" width="366" height="55.8" fill="#fff"/>
<text x="129.3" y="651.8" font-size="42.9" textLength="327" lengthAdjust="spacing">TiOx/TiO<tspan font-size="26.598" dy="9.438">2</tspan><tspan dy="-9.438">  120 °C</tspan></text>
<text x="35" y="617" font-size="51" letter-spacing="2" >(c)</text>
<rect x="125.8" y="1060.7" width="95.6" height="9.7" fill="#160604"/>
<text x="141" y="1095.8" font-size="27" font-weight="bold" font-style="italic" textLength="62" lengthAdjust="spacingAndGlyphs" style="fill:#170602;stroke:#170602;stroke-width:0.9px">2 µm</text>
<rect x="614.5" y="648" width="29.9" height="413.6" fill="url(#cbar)"/>
<text x="629" y="644.7" font-size="28" font-weight="bold" font-style="italic" text-anchor="middle" style="stroke:#202020;stroke-width:0.5px">25</text>
<text x="629.5" y="1085.3" font-size="28" font-weight="bold" font-style="italic" text-anchor="middle" style="stroke:#202020;stroke-width:0.5px">0 nm</text>
</g>
<g id="panel-d">
<clipPath id="clipd"><rect x="0" y="0" width="482.1" height="486.1"/></clipPath>
<g transform="translate(749.5,619.3)" clip-path="url(#clipd)">
<g filter="url(#fd)">
<rect x="-40" y="-40" width="562.1" height="566.1" fill="#848484"/>
<g transform="matrix(1 0 -0.19 1 0 0)"><rect x="-160" y="-60" width="900" height="620" fill="url(#dS)"/></g>
<path d="M83,52h0M324,246h0M289,210h0M147,395h0M269,440h0M86,223h0M354,467h0M394,143h0M464,161h0M175,141h0M473,206h0M29,27h0M326,73h0M117,200h0M401,242h0M123,118h0M112,423h0M238,45h0M445,465h0M21,437h0M467,324h0M360,451h0M2,448h0M227,256h0M417,296h0" stroke="#d4d4d4" stroke-width="3" stroke-linecap="round" fill="none" opacity="0.8"/>
<path d="M114,50h0M75,32h0M107,261h0M386,94h0M424,42h0M417,266h0M409,247h0M22,304h0M258,229h0M481,95h0M98,308h0M172,363h0M297,115h0M198,459h0M214,66h0M197,480h0M25,451h0M310,396h0M316,333h0M468,468h0M81,309h0M377,427h0M424,98h0M16,289h0M175,373h0M41,264h0" stroke="#d4d4d4" stroke-width="4" stroke-linecap="round" fill="none" opacity="0.8"/>
<path d="M443,389h0M447,403h0M302,356h0M228,43h0M438,278h0M30,111h0M336,436h0M139,470h0M22,82h0M237,121h0M59,257h0M203,121h0M478,196h0M315,384h0M421,437h0M162,319h0M423,56h0M159,433h0M5,407h0" stroke="#d4d4d4" stroke-width="5" stroke-linecap="round" fill="none" opacity="0.8"/>
<circle cx="200.2" cy="141.5" r="4.3" fill="#202020" opacity="0.8"/>
<circle cx="102.5" cy="206.6" r="3.7" fill="#202020" opacity="0.8"/>
<circle cx="94.7" cy="287.2" r="4.3" fill="#202020" opacity="0.8"/>
<circle cx="59.1" cy="307.4" r="3.7" fill="#202020" opacity="0.8"/>
<circle cx="345.9" cy="102.7" r="3.1" fill="#202020" opacity="0.8"/>
<circle cx="415.7" cy="191.1" r="3.7" fill="#202020" opacity="0.8"/>
<circle cx="398.7" cy="253.1" r="3.7" fill="#202020" opacity="0.8"/>
<circle cx="297.9" cy="372.5" r="3.7" fill="#202020" opacity="0.8"/>
</g>

</g>
<rect x="747" y="617" width="359" height="51" fill="#fff"/>
<text x="768" y="650.9" font-size="42.9" textLength="327.5" lengthAdjust="spacing">TiOx/TiO<tspan font-size="26.598" dy="9.438">2</tspan><tspan dy="-9.438">  250 °C</tspan></text>
<text x="673.8" y="617" font-size="51" letter-spacing="2" >(d)</text>
<rect x="771" y="1061.6" width="95.3" height="8.2" fill="#160604"/>
<text x="786" y="1096" font-size="27" font-weight="bold" font-style="italic" textLength="63" lengthAdjust="spacingAndGlyphs" style="fill:#170602;stroke:#170602;stroke-width:0.9px">2 µm</text>
<rect x="1253" y="653.5" width="29.5" height="415.1" fill="url(#cbar)"/>
<text x="1267.5" y="651" font-size="28" font-weight="bold" font-style="italic" text-anchor="middle" style="stroke:#202020;stroke-width:0.5px">25</text>
<text x="1267" y="1091.4" font-size="28" font-weight="bold" font-style="italic" text-anchor="middle" style="stroke:#202020;stroke-width:0.5px">0 nm</text>
</g>
<g id="panel-e">
<clipPath id="clipe"><rect x="0" y="0" width="484.3" height="486.4"/></clipPath>
<g transform="translate(106.7,1184.4)" clip-path="url(#clipe)">
<g filter="url(#fe)">
<rect x="-40" y="-40" width="564.3" height="566.4" fill="#737373"/>
<g filter="url(#soft8)">
<ellipse cx="167.0" cy="321.3" rx="130.3" ry="52.7" fill="#8c8c8c" opacity="0.7"/>
<ellipse cx="381.0" cy="88.6" rx="80.6" ry="40.3" fill="#595959" opacity="0.7"/>
<ellipse cx="204.2" cy="187.9" rx="49.6" ry="24.8" fill="#555555" opacity="0.7"/>
<ellipse cx="334.5" cy="262.3" rx="40.3" ry="21.7" fill="#555555" opacity="0.7"/>
<ellipse cx="303.5" cy="377.1" rx="40.3" ry="27.9" fill="#555555" opacity="0.7"/>
<ellipse cx="452.3" cy="181.7" rx="37.2" ry="34.1" fill="#595959" opacity="0.7"/>
<ellipse cx="381.0" cy="445.3" rx="93.0" ry="34.1" fill="#848484" opacity="0.6"/>
</g>
<path d="M196,410h0M54,206h0M188,375h0M166,118h0M484,245h0M356,274h0M382,185h0M157,333h0M356,149h0M406,63h0M52,41h0M4,121h0M36,327h0M200,25h0M174,195h0M176,139h0M68,293h0M153,456h0M342,99h0M441,154h0" stroke="#cacaca" stroke-width="3" stroke-linecap="round" fill="none" opacity="0.7"/>
<path d="M69,5h0M70,214h0M36,334h0M151,302h0M337,25h0M395,195h0M289,232h0M473,323h0M55,114h0M14,400h0M251,108h0M18,135h0M81,450h0M231,305h0M458,435h0M141,425h0M341,104h0M64,431h0M466,370h0M281,169h0M191,120h0M165,116h0M457,4h0M135,98h0M294,410h0M170,356h0M242,176h0M200,300h0M197,185h0M194,393h0M423,399h0M419,405h0M426,12h0M6,83h0M347,144h0M463,332h0M205,264h0M452,176h0M479,236h0M302,261h0M361,123h0M280,184h0M172,485h0M243,224h0M194,100h0M326,83h0M137,409h0M222,456h0M298,347h0M204,153h0M57,149h0M59,405h0M53,300h0M263,412h0M468,259h0M138,367h0M465,32h0M484,379h0M232,99h0M328,287h0M228,218h0M98,200h0M331,251h0M70,263h0" stroke="#cacaca" stroke-width="4" stroke-linecap="round" fill="none" opacity="0.7"/>
<path d="M230,320h0M133,394h0M291,272h0M29,445h0M176,336h0M248,394h0M266,87h0M308,25h0M101,137h0M310,112h0M457,251h0M123,332h0M435,443h0M334,263h0M60,260h0M44,152h0M177,14h0M215,87h0M107,447h0M338,79h0M191,328h0M471,269h0M66,110h0M138,455h0M155,61h0M294,50h0M260,218h0M316,389h0M308,227h0M188,202h0M238,416h0M117,42h0M447,292h0M6,111h0M112,187h0M50,359h0M84,267h0M144,162h0M192,251h0M95,310h0M225,175h0M364,116h0M352,244h0M441,453h0M406,408h0M211,10h0M446,254h0M408,436h0M328,423h0M108,196h0M137,277h0M82,10h0M173,46h0M201,158h0M154,453h0M209,398h0M465,429h0M33,46h0M434,453h0M442,316h0" stroke="#cacaca" stroke-width="5" stroke-linecap="round" fill="none" opacity="0.7"/>
<path d="M439,29h0M44,480h0M15,353h0M464,234h0M92,364h0M3,130h0M19,301h0M156,383h0M117,212h0M271,304h0M285,438h0M344,440h0M171,152h0M368,321h0M223,416h0M110,262h0M122,22h0M188,425h0M408,296h0M99,124h0M253,26h0M89,152h0M346,135h0M197,296h0M332,300h0M465,363h0M14,111h0M230,100h0M461,480h0M354,402h0M165,186h0M61,263h0M178,170h0M121,394h0M286,233h0M148,12h0M383,190h0M437,74h0M237,292h0M71,111h0M178,92h0M371,268h0M126,260h0M436,12h0M256,303h0M106,198h0M362,255h0M60,21h0M400,418h0M364,401h0M261,258h0M438,145h0M326,228h0M342,479h0M302,160h0M190,97h0" stroke="#cacaca" stroke-width="6" stroke-linecap="round" fill="none" opacity="0.7"/>
<circle cx="373.2" cy="42.1" r="4.7" fill="#cecece"/>
<circle cx="391.8" cy="77.8" r="6.8" fill="#cecece"/>
<circle cx="348.4" cy="80.9" r="4.7" fill="#cecece"/>
<circle cx="134.4" cy="194.1" r="9.9" fill="#cecece"/>
<circle cx="300.4" cy="234.4" r="9.3" fill="#cecece"/>
<circle cx="298.8" cy="253.0" r="6.2" fill="#cecece"/>
<circle cx="199.6" cy="271.6" r="7.8" fill="#cecece"/>
<circle cx="86.3" cy="282.5" r="6.8" fill="#cecece"/>
<circle cx="281.7" cy="315.1" r="4.7" fill="#cecece"/>
<circle cx="249.2" cy="329.0" r="5.6" fill="#cecece"/>
<circle cx="280.2" cy="356.9" r="6.2" fill="#cecece"/>
<circle cx="357.7" cy="383.3" r="5.6" fill="#cecece"/>
<circle cx="167.0" cy="377.1" r="11.8" fill="#cecece"/>
<circle cx="30.5" cy="212.7" r="14.0" fill="#cecece"/>
<circle cx="49.1" cy="383.3" r="13.0" fill="#cecece"/>
<circle cx="256.9" cy="395.7" r="18.6" fill="#cecece"/>
<circle cx="207.3" cy="84.0" r="13.0" fill="#cecece"/>
<circle cx="470.9" cy="284.0" r="12.4" fill="#cecece"/>
<circle cx="148.4" cy="85.5" r="6.2" fill="#ffffff"/>
<circle cx="311.2" cy="70.0" r="4.3" fill="#ffffff"/>
<circle cx="415.1" cy="65.4" r="4.3" fill="#ffffff"/>
<circle cx="153.0" cy="178.6" r="5.0" fill="#ffffff"/>
<circle cx="269.3" cy="276.3" r="6.2" fill="#ffffff"/>
<circle cx="387.2" cy="315.1" r="3.4" fill="#ffffff"/>
<circle cx="390.3" cy="349.2" r="4.0" fill="#ffffff"/>
<circle cx="343.8" cy="384.8" r="2.8" fill="#ffffff"/>
<circle cx="250.7" cy="437.6" r="5.0" fill="#ffffff"/>
<circle cx="194.9" cy="463.9" r="8.7" fill="#ffffff"/>
<circle cx="260.0" cy="409.7" r="11.2" fill="#ffffff"/>
<circle cx="253.8" cy="377.1" r="6.8" fill="#ffffff"/>
<circle cx="33.6" cy="234.4" r="7.4" fill="#ffffff"/>
<circle cx="52.2" cy="395.7" r="6.8" fill="#ffffff"/>
<circle cx="472.5" cy="284.0" r="8.1" fill="#ffffff"/>
<circle cx="475.6" cy="332.1" r="8.1" fill="#ffffff"/>
<circle cx="207.3" cy="82.4" r="6.8" fill="#ffffff"/>
<circle cx="134.4" cy="194.1" r="6.2" fill="#ffffff"/>
<path d="M266.2,73.1 L272.4,119.7" stroke="#cacaca" stroke-width="3.5" stroke-linecap="round" fill="none"/>
<path d="M384.1,284.0 L402.7,259.2" stroke="#cacaca" stroke-width="3.5" stroke-linecap="round" fill="none"/>
<circle cx="24.3" cy="389.5" r="8.1" fill="#202020" opacity="0.9"/>
</g>

</g>
<rect x="98" y="1182" width="372.7" height="57.3" fill="#fff"/>
<text x="102" y="1213.7" font-size="42.9" textLength="367" lengthAdjust="spacing">TaOx/Ta<tspan font-size="26.598" dy="9.438">2</tspan><tspan dy="-9.438">O</tspan><tspan font-size="26.598" dy="9.438">5</tspan><tspan dy="-9.438">  150 °C</tspan></text>
<text x="33.5" y="1175" font-size="51" letter-spacing="2" >(e)</text>
<rect x="121.4" y="1623.2" width="102.6" height="7" fill="#160604"/>
<text x="137" y="1661" font-size="32" font-weight="bold" font-style="italic" textLength="75" lengthAdjust="spacingAndGlyphs" style="fill:#170602;stroke:#170602;stroke-width:0.9px">1 um</text>
<rect x="613.7" y="1225.6" width="28.1" height="412" fill="url(#cbar)"/>
<text x="627.7" y="1221.2" font-size="28" font-weight="bold" font-style="italic" text-anchor="middle" style="stroke:#202020;stroke-width:0.5px">25</text>
<text x="628" y="1661.8" font-size="28" font-weight="bold" font-style="italic" text-anchor="middle" style="stroke:#202020;stroke-width:0.5px">0 nm</text>
</g>
<g id="panel-f">
<clipPath id="clipf"><rect x="0" y="0" width="479.8" height="485.2"/></clipPath>
<g transform="translate(744.4,1188.8)" clip-path="url(#clipf)">
<g filter="url(#ff)">
<rect x="-40" y="-40" width="559.8" height="565.2" fill="#7b7b7b"/>
<g filter="url(#soft8)">
<ellipse cx="37.1" cy="412.9" rx="80.6" ry="93.0" fill="#959595" opacity="0.7"/>
<ellipse cx="300.8" cy="459.4" rx="155.1" ry="37.2" fill="#959595" opacity="0.7"/>
<ellipse cx="347.3" cy="319.9" rx="80.6" ry="27.9" fill="#959595" opacity="0.6"/>
<ellipse cx="347.3" cy="99.7" rx="68.2" ry="21.7" fill="#959595" opacity="0.6"/>
<ellipse cx="68.1" cy="96.6" rx="62.0" ry="37.2" fill="#8c8c8c" opacity="0.6"/>
</g>
<ellipse cx="30.9" cy="81.0" rx="13.5" ry="9.8" fill="#222222" opacity="0.92"/>
<ellipse cx="176.7" cy="112.1" rx="13.5" ry="9.8" fill="#222222" opacity="0.92"/>
<ellipse cx="409.3" cy="96.6" rx="16.2" ry="11.7" fill="#222222" opacity="0.92"/>
<ellipse cx="316.3" cy="118.3" rx="11.2" ry="8.1" fill="#222222" opacity="0.92"/>
<ellipse cx="182.9" cy="171.0" rx="12.6" ry="9.1" fill="#222222" opacity="0.92"/>
<ellipse cx="217.0" cy="177.2" rx="13.5" ry="9.8" fill="#222222" opacity="0.92"/>
<ellipse cx="266.6" cy="161.7" rx="13.5" ry="9.8" fill="#222222" opacity="0.92"/>
<ellipse cx="108.5" cy="223.7" rx="13.5" ry="9.8" fill="#222222" opacity="0.92"/>
<ellipse cx="127.1" cy="326.1" rx="17.1" ry="12.4" fill="#222222" opacity="0.92"/>
<ellipse cx="173.6" cy="375.7" rx="18.0" ry="13.0" fill="#222222" opacity="0.92"/>
<ellipse cx="260.4" cy="412.9" rx="18.9" ry="13.7" fill="#222222" opacity="0.92"/>
<ellipse cx="424.8" cy="329.2" rx="18.0" ry="13.0" fill="#222222" opacity="0.92"/>
<ellipse cx="375.2" cy="341.6" rx="13.5" ry="9.8" fill="#222222" opacity="0.92"/>
<ellipse cx="362.8" cy="385.0" rx="13.5" ry="9.8" fill="#222222" opacity="0.92"/>
<ellipse cx="449.6" cy="462.5" rx="15.7" ry="11.4" fill="#222222" opacity="0.92"/>
<ellipse cx="83.6" cy="285.7" rx="12.6" ry="9.1" fill="#222222" opacity="0.92"/>
<ellipse cx="89.8" cy="378.8" rx="14.4" ry="10.4" fill="#222222" opacity="0.92"/>
<path d="M210.8,93.4 L238.7,158.6" stroke="#d0d0d0" stroke-width="4.4" stroke-linecap="round" fill="none"/>
<path d="M120.9,229.9 L145.7,323.0" stroke="#d0d0d0" stroke-width="4.4" stroke-linecap="round" fill="none"/>
<path d="M189.1,285.7 L204.6,341.6" stroke="#d0d0d0" stroke-width="4.4" stroke-linecap="round" fill="none"/>
<path d="M139.5,350.9 L158.1,403.6" stroke="#d0d0d0" stroke-width="4.4" stroke-linecap="round" fill="none"/>
<path d="M369.0,236.1 L384.5,313.7" stroke="#d0d0d0" stroke-width="4.4" stroke-linecap="round" fill="none"/>
<path d="M325.6,140.0 L341.1,171.0" stroke="#d0d0d0" stroke-width="4.4" stroke-linecap="round" fill="none"/>
<path d="M189.1,177.2 L204.6,205.1" stroke="#d0d0d0" stroke-width="4.4" stroke-linecap="round" fill="none"/>
<path d="M96.1,127.6 L111.6,167.9" stroke="#d0d0d0" stroke-width="4.4" stroke-linecap="round" fill="none"/>
<path d="M372.1,62.4 L384.5,84.1" stroke="#d0d0d0" stroke-width="4.4" stroke-linecap="round" fill="none"/>
<path d="M406.2,25.2 L418.6,50.0" stroke="#d0d0d0" stroke-width="4.4" stroke-linecap="round" fill="none"/>
<path d="M244.9,332.3 L254.2,357.1" stroke="#d0d0d0" stroke-width="4.4" stroke-linecap="round" fill="none"/>
<path d="M465.1,96.6 L474.4,124.5" stroke="#d0d0d0" stroke-width="4.4" stroke-linecap="round" fill="none"/>
<path d="M424.8,112.1 L431.0,143.1" stroke="#d0d0d0" stroke-width="4.4" stroke-linecap="round" fill="none"/>
<path d="M452.7,136.9 L458.9,158.6" stroke="#d0d0d0" stroke-width="4.4" stroke-linecap="round" fill="none"/>
<path d="M297.7,459.4 L325.6,462.5" stroke="#d0d0d0" stroke-width="4.4" stroke-linecap="round" fill="none"/>
<path d="M325.6,462.5 L331.8,471.8" stroke="#d0d0d0" stroke-width="4.4" stroke-linecap="round" fill="none"/>
<path d="M223.2,81.0 L207.7,112.1" stroke="#d0d0d0" stroke-width="4.4" stroke-linecap="round" fill="none"/>
<path d="M21.6,149.3 L30.9,195.8" stroke="#d0d0d0" stroke-width="4.4" stroke-linecap="round" fill="none"/>
<path d="M279.0,391.2 L269.7,409.8" stroke="#d0d0d0" stroke-width="4.4" stroke-linecap="round" fill="none"/>
<path d="M431.0,391.2 L406.2,409.8" stroke="#d0d0d0" stroke-width="4.4" stroke-linecap="round" fill="none"/>
<path d="M226.3,192.7 L238.7,242.3" stroke="#d0d0d0" stroke-width="4.4" stroke-linecap="round" fill="none"/>
<path d="M300.8,242.3 L310.1,257.8" stroke="#d0d0d0" stroke-width="4.4" stroke-linecap="round" fill="none"/>
<path d="M319.4,242.3 L328.7,257.8" stroke="#d0d0d0" stroke-width="4.4" stroke-linecap="round" fill="none"/>
<path d="M338.0,242.3 L347.3,257.8" stroke="#d0d0d0" stroke-width="4.4" stroke-linecap="round" fill="none"/>
<path d="M3.0,56.2 L6.1,96.6" stroke="#d0d0d0" stroke-width="4.4" stroke-linecap="round" fill="none"/>
<path d="M83.6,335.4 L102.3,341.6" stroke="#d0d0d0" stroke-width="4.4" stroke-linecap="round" fill="none"/>
<circle cx="99.2" cy="133.8" r="7.4" fill="#d0d0d0"/>
<path d="M317,53h0M390,446h0M350,150h0M473,442h0M442,393h0M381,208h0M364,403h0M237,137h0M472,382h0M74,271h0M92,3h0M247,70h0M209,131h0M460,89h0M237,475h0M53,360h0M94,392h0M159,8h0M367,422h0" stroke="#cacaca" stroke-width="3" stroke-linecap="round" fill="none" opacity="0.7"/>
<path d="M184,362h0M72,342h0M458,102h0M423,310h0M39,456h0M170,466h0M372,421h0M267,465h0M92,293h0M440,155h0M436,281h0M5,365h0M271,333h0M188,95h0M72,54h0M403,319h0M116,258h0M234,191h0M266,250h0M464,365h0M153,92h0M14,361h0M203,433h0M278,451h0M362,147h0M284,252h0M367,218h0M242,260h0M101,130h0M336,13h0M259,91h0M129,169h0M393,473h0M4,364h0M351,138h0M160,261h0M120,330h0M96,177h0M141,211h0M423,464h0M373,207h0M139,118h0M371,385h0M194,441h0M152,17h0M29,327h0M203,126h0M102,101h0M420,457h0M304,184h0M451,235h0M368,110h0M412,239h0M195,474h0M227,96h0M17,60h0M125,151h0M15,260h0M441,342h0M368,52h0M388,55h0M460,20h0M51,47h0M148,313h0M258,157h0M366,34h0M274,97h0M183,27h0M199,370h0M114,243h0" stroke="#cacaca" stroke-width="4" stroke-linecap="round" fill="none" opacity="0.7"/>
<path d="M250,391h0M139,372h0M241,154h0M30,394h0M478,69h0M179,25h0M173,130h0M266,63h0M224,132h0M351,466h0M404,261h0M444,45h0M36,41h0M78,143h0M92,279h0M396,227h0M47,441h0M13,260h0M107,315h0M186,254h0M257,154h0M296,82h0M364,364h0M236,209h0M181,83h0M35,165h0M154,468h0M148,419h0M392,431h0M102,421h0M428,456h0M95,350h0M310,64h0M233,413h0M115,461h0M42,144h0M126,273h0M296,437h0M230,160h0M71,185h0M1,224h0M310,144h0M348,286h0M19,75h0M201,41h0M62,357h0" stroke="#cacaca" stroke-width="5" stroke-linecap="round" fill="none" opacity="0.7"/>
<path d="M454,195h0M294,179h0M6,128h0M435,297h0M425,130h0" stroke="#cacaca" stroke-width="6" stroke-linecap="round" fill="none" opacity="0.7"/>
<circle cx="353.5" cy="87.2" r="4.3" fill="#ffffff"/>
<circle cx="24.7" cy="267.1" r="4.3" fill="#ffffff"/>
<circle cx="279.0" cy="298.2" r="3.4" fill="#ffffff"/>
<circle cx="258.9" cy="323.0" r="4.3" fill="#ffffff"/>
<circle cx="331.8" cy="198.9" r="2.8" fill="#ffffff"/>
<circle cx="462.0" cy="236.1" r="3.4" fill="#ffffff"/>
<circle cx="89.8" cy="409.8" r="2.8" fill="#ffffff"/>
<circle cx="463.6" cy="428.4" r="3.4" fill="#ffffff"/>
<circle cx="37.1" cy="354.0" r="2.5" fill="#ffffff"/>
</g>

</g>
<rect x="736" y="1186" width="370" height="57" fill="#fff"/>
<text x="741" y="1217.8" font-size="42.9" textLength="367" lengthAdjust="spacing">TaOx/Ta<tspan font-size="26.598" dy="9.438">2</tspan><tspan dy="-9.438">O</tspan><tspan font-size="26.598" dy="9.438">5</tspan><tspan dy="-9.438">  300 °C</tspan></text>
<text x="681" y="1175" font-size="51" letter-spacing="2" >(f)</text>
<rect x="758.3" y="1627.6" width="97.2" height="7.9" fill="#160604"/>
<text x="771" y="1665.3" font-size="32" font-weight="bold" font-style="italic" textLength="76" lengthAdjust="spacingAndGlyphs" style="fill:#170602;stroke:#170602;stroke-width:0.9px">1 um</text>
<rect x="1246" y="1227.4" width="28.6" height="412.6" fill="url(#cbar)"/>
<text x="1258" y="1224" font-size="28" font-weight="bold" font-style="italic" text-anchor="middle" style="stroke:#202020;stroke-width:0.5px">25</text>
<text x="1259.5" y="1665" font-size="28" font-weight="bold" font-style="italic" text-anchor="middle" style="stroke:#202020;stroke-width:0.5px">0 nm</text>
</g>
<g id="chart">
<clipPath id="plotclip"><rect x="1494" y="368" width="932" height="938"/></clipPath>
<g clip-path="url(#plotclip)">
<path d="M1494.0,1292.0 L1520.0,1290.0 L1550.0,1284.0 L1580.0,1272.0 L1610.0,1262.0 L1640.0,1252.0 L1670.0,1245.0 L1700.0,1240.0 L1730.0,1246.0 L1760.0,1258.0 L1786.0,1278.0 L1810.0,1282.0 L1840.0,1284.0 L1870.0,1286.0 L1900.0,1286.0 L1930.0,1287.0 L1960.0,1288.0 L1990.0,1290.0 L2010.0,1296.0 L2030.0,1288.0 L2050.0,1276.0 L2070.0,1258.0 L2084.0,1225.0 L2094.0,1180.0 L2104.0,1120.0 L2118.0,1040.0 L2133.0,940.0 L2142.0,859.0 L2151.0,761.0 L2160.0,661.0 L2170.0,570.0 L2178.0,530.0 L2184.0,520.0 L2190.0,530.0 L2194.0,570.0 L2199.0,640.0 L2205.0,720.0 L2212.0,800.0 L2219.0,880.0 L2225.0,950.0 L2231.0,1030.0 L2239.0,1095.0 L2249.0,1150.0 L2262.0,1200.0 L2278.0,1240.0 L2300.0,1268.0 L2330.0,1286.0 L2360.0,1294.0 L2390.0,1298.0 L2419.0,1302.0" fill="none" stroke="#2f7a3a" stroke-width="5" stroke-linejoin="round" stroke-linecap="butt" stroke-dasharray="5 6" />
<path d="M1494.0,1278.0 L1520.0,1276.0 L1545.0,1272.0 L1575.0,1266.0 L1600.0,1259.0 L1625.0,1251.0 L1650.0,1243.0 L1675.0,1236.0 L1700.0,1231.0 L1716.0,1228.0 L1735.0,1235.0 L1755.0,1246.0 L1771.0,1256.0 L1790.0,1264.0 L1806.0,1268.0 L1830.0,1270.0 L1860.0,1270.0 L1890.0,1271.0 L1920.0,1270.0 L1956.0,1268.0 L1975.0,1271.0 L1994.0,1273.0 L2019.0,1271.0 L2044.0,1261.0 L2066.0,1251.0 L2078.0,1225.0 L2088.0,1195.0 L2097.0,1145.0 L2109.0,1085.0 L2121.0,1020.0 L2130.0,940.0 L2138.0,859.0 L2146.0,761.0 L2154.0,661.0 L2165.0,560.0 L2175.0,512.0 L2181.0,487.0 L2183.0,483.0 L2185.0,487.0 L2191.0,512.0 L2200.0,566.0 L2211.0,661.0 L2220.0,761.0 L2229.0,859.0 L2234.0,940.0 L2241.0,1020.0 L2249.0,1085.0 L2259.0,1145.0 L2271.0,1190.0 L2285.0,1222.0 L2307.0,1252.0 L2332.0,1263.0 L2357.0,1271.0 L2390.0,1280.0 L2422.0,1288.0" fill="none" stroke="#2e459e" stroke-width="11" stroke-linejoin="round" stroke-linecap="butt" />
<path d="M1494.0,1284.0 L1520.0,1280.0 L1545.0,1275.0 L1575.0,1268.0 L1600.0,1262.0 L1620.0,1258.0 L1640.0,1252.0 L1655.0,1238.0 L1668.0,1222.0 L1682.0,1208.0 L1695.0,1198.0 L1706.0,1192.0 L1716.0,1202.0 L1730.0,1218.0 L1745.0,1232.0 L1765.0,1245.0 L1785.0,1255.0 L1810.0,1262.0 L1840.0,1266.0 L1870.0,1266.0 L1900.0,1262.0 L1930.0,1250.0 L1956.0,1241.0 L1970.0,1252.0 L1989.0,1233.0 L2005.0,1240.0 L2020.0,1222.0 L2039.0,1210.0 L2055.0,1218.0 L2076.0,1175.0 L2094.0,1150.0 L2108.0,1095.0 L2122.0,1030.0 L2136.0,940.0 L2146.0,859.0 L2156.0,761.0 L2166.0,661.0 L2176.0,570.0 L2184.0,530.0 L2190.0,512.0 L2196.0,520.0 L2201.0,515.0 L2206.0,545.0 L2212.0,600.0 L2220.0,680.0 L2229.0,780.0 L2237.0,870.0 L2243.0,950.0 L2250.0,1030.0 L2258.0,1095.0 L2268.0,1150.0 L2281.0,1198.0 L2296.0,1230.0 L2315.0,1250.0 L2340.0,1262.0 L2370.0,1270.0 L2400.0,1276.0 L2419.0,1280.0" fill="none" stroke="#5e3434" stroke-width="6" stroke-linejoin="round" stroke-linecap="butt" stroke-dasharray="9 5 4 5 4 5" />
<path d="M1494.0,1302.0 L1508.0,1301.0 L1520.0,1298.0 L1540.0,1291.0 L1555.0,1286.0 L1570.0,1268.0 L1586.0,1253.0 L1606.0,1241.0 L1621.0,1226.0 L1631.0,1196.0 L1643.0,1170.0 L1653.0,1138.0 L1666.0,1115.0 L1678.0,1102.0 L1696.0,1099.0 L1706.0,1115.0 L1716.0,1140.0 L1728.0,1170.0 L1738.0,1190.0 L1751.0,1208.0 L1764.0,1236.0 L1776.0,1253.0 L1791.0,1271.0 L1806.0,1278.0 L1826.0,1282.0 L1844.0,1290.0 L1851.0,1281.0 L1871.0,1283.0 L1891.0,1290.0 L1911.0,1286.0 L1931.0,1287.0 L1951.0,1286.0 L1966.0,1281.0 L1981.0,1287.0 L2001.0,1290.0 L2011.0,1283.0 L2024.0,1292.0 L2036.0,1286.0 L2056.0,1276.0 L2071.0,1261.0 L2081.0,1233.0 L2090.0,1195.0 L2098.0,1145.0 L2110.0,1085.0 L2122.0,1020.0 L2131.0,940.0 L2139.0,859.0 L2147.0,761.0 L2155.0,661.0 L2166.0,560.0 L2175.0,516.0 L2181.0,498.0 L2184.0,498.0 L2190.0,518.0 L2199.0,570.0 L2209.0,661.0 L2218.0,761.0 L2227.0,859.0 L2231.0,940.0 L2238.0,1020.0 L2246.0,1085.0 L2256.0,1145.0 L2268.0,1195.0 L2280.0,1225.0 L2296.0,1255.0 L2312.0,1275.0 L2332.0,1296.0 L2345.0,1303.0" fill="none" stroke="#0a0a0a" stroke-width="6.5" stroke-linejoin="round" stroke-linecap="butt" />
<path d="M1494.0,1280.0 L1520.0,1277.0 L1545.0,1273.0 L1575.0,1267.0 L1600.0,1258.0 L1625.0,1248.0 L1650.0,1238.0 L1675.0,1228.0 L1700.0,1219.0 L1726.0,1213.0 L1745.0,1218.0 L1760.0,1232.0 L1780.0,1248.0 L1800.0,1258.0 L1830.0,1266.0 L1860.0,1268.0 L1890.0,1268.0 L1920.0,1266.0 L1950.0,1262.0 L1975.0,1258.0 L2006.0,1246.0 L2031.0,1233.0 L2061.0,1228.0 L2081.0,1200.0 L2094.0,1150.0 L2106.0,1100.0 L2120.0,1040.0 L2134.0,940.0 L2142.0,859.0 L2151.0,761.0 L2160.0,661.0 L2170.0,570.0 L2177.0,524.0 L2182.0,502.0 L2186.0,506.0 L2192.0,536.0 L2201.0,596.0 L2212.0,680.0 L2221.0,780.0 L2229.0,870.0 L2235.0,950.0 L2243.0,1030.0 L2252.0,1095.0 L2263.0,1150.0 L2278.0,1200.0 L2294.0,1233.0 L2312.0,1243.0 L2332.0,1253.0 L2350.0,1262.0 L2370.0,1268.0 L2395.0,1274.0 L2419.0,1278.0" fill="none" stroke="#cf2a2a" stroke-width="6" stroke-linejoin="round" stroke-linecap="butt" stroke-dasharray="26 6 6 6" />
<path d="M1494.0,1282.0 L1520.0,1279.0 L1545.0,1275.0 L1575.0,1270.0 L1600.0,1265.0 L1630.0,1260.0 L1656.0,1253.0 L1681.0,1256.0 L1698.0,1254.0 L1708.0,1243.0 L1731.0,1249.0 L1756.0,1253.0 L1781.0,1261.0 L1806.0,1263.0 L1831.0,1264.0 L1860.0,1266.0 L1890.0,1268.0 L1920.0,1268.0 L1950.0,1266.0 L1980.0,1268.0 L2010.0,1270.0 L2040.0,1266.0 L2062.0,1256.0 L2078.0,1235.0 L2090.0,1200.0 L2100.0,1150.0 L2112.0,1095.0 L2125.0,1030.0 L2137.0,940.0 L2145.0,859.0 L2153.0,761.0 L2161.0,661.0 L2171.0,570.0 L2178.0,518.0 L2183.0,495.0 L2187.0,503.0 L2192.0,536.0 L2200.0,600.0 L2207.0,680.0 L2215.0,780.0 L2223.0,870.0 L2229.0,950.0 L2235.0,1030.0 L2243.0,1095.0 L2253.0,1150.0 L2266.0,1200.0 L2282.0,1238.0 L2300.0,1262.0 L2325.0,1280.0 L2357.0,1293.0 L2390.0,1299.0 L2419.0,1303.0" fill="none" stroke="#f28a1e" stroke-width="7" stroke-linejoin="round" stroke-linecap="butt" stroke-dasharray="22 9" />
</g>
<rect x="1493.6" y="368.2" width="926.5" height="934.8" fill="none" stroke="#505050" stroke-width="5.6"/>
<path d="M1503.3,371 v5 M1503.3,1300.5 v-4 M1525.2,371 v5 M1525.2,1300.5 v-4 M1547.0,371 v9 M1547.0,1300.5 v-9 M1568.8,371 v5 M1568.8,1300.5 v-4 M1590.7,371 v5 M1590.7,1300.5 v-4 M1612.5,371 v5 M1612.5,1300.5 v-4 M1634.3,371 v5 M1634.3,1300.5 v-4 M1656.1,371 v9 M1656.1,1300.5 v-9 M1678.0,371 v5 M1678.0,1300.5 v-4 M1699.8,371 v5 M1699.8,1300.5 v-4 M1721.6,371 v5 M1721.6,1300.5 v-4 M1743.4,371 v5 M1743.4,1300.5 v-4 M1765.2,371 v9 M1765.2,1300.5 v-9 M1787.1,371 v5 M1787.1,1300.5 v-4 M1808.9,371 v5 M1808.9,1300.5 v-4 M1830.7,371 v5 M1830.7,1300.5 v-4 M1852.5,371 v5 M1852.5,1300.5 v-4 M1874.4,371 v9 M1874.4,1300.5 v-9 M1896.2,371 v5 M1896.2,1300.5 v-4 M1918.0,371 v5 M1918.0,1300.5 v-4 M1939.8,371 v5 M1939.8,1300.5 v-4 M1961.7,371 v5 M1961.7,1300.5 v-4 M1983.5,371 v9 M1983.5,1300.5 v-9 M2005.3,371 v5 M2005.3,1300.5 v-4 M2027.2,371 v5 M2027.2,1300.5 v-4 M2049.0,371 v5 M2049.0,1300.5 v-4 M2070.8,371 v5 M2070.8,1300.5 v-4 M2092.6,371 v9 M2092.6,1300.5 v-9 M2114.4,371 v5 M2114.4,1300.5 v-4 M2136.3,371 v5 M2136.3,1300.5 v-4 M2158.1,371 v5 M2158.1,1300.5 v-4 M2179.9,371 v5 M2179.9,1300.5 v-4 M2201.8,371 v9 M2201.8,1300.5 v-9 M2223.6,371 v5 M2223.6,1300.5 v-4 M2245.4,371 v5 M2245.4,1300.5 v-4 M2267.2,371 v5 M2267.2,1300.5 v-4 M2289.1,371 v5 M2289.1,1300.5 v-4 M2310.9,371 v9 M2310.9,1300.5 v-9 M2332.7,371 v5 M2332.7,1300.5 v-4 M2354.5,371 v5 M2354.5,1300.5 v-4 M2376.3,371 v5 M2376.3,1300.5 v-4 M2398.2,371 v5 M2398.2,1300.5 v-4" stroke="#505050" stroke-width="3" fill="none"/>
<path d="M1496,497.6 h9.5 M2417.5,497.6 h-10 M1496,629.2 h9.5 M2417.5,629.2 h-10 M1496,759.3 h9.5 M2417.5,759.3 h-10 M1496,892.7 h9.5 M2417.5,892.7 h-10 M1496,1022.5 h9.5 M2417.5,1022.5 h-10 M1496,1155.4 h9.5 M2417.5,1155.4 h-10" stroke="#505050" stroke-width="3" fill="none"/>
<text x="1503.7" y="1347.3" font-size="41.3" textLength="93.3" lengthAdjust="spacing">1300</text>
<text x="1614.0" y="1347.3" font-size="41.3" textLength="93.3" lengthAdjust="spacing">1350</text>
<text x="1723.1" y="1347.3" font-size="41.3" textLength="93.3" lengthAdjust="spacing">1400</text>
<text x="1832.6" y="1347.3" font-size="41.3" textLength="93.3" lengthAdjust="spacing">1450</text>
<text x="1940.6" y="1347.3" font-size="41.3" textLength="93.3" lengthAdjust="spacing">1500</text>
<text x="2049.7" y="1347.3" font-size="41.3" textLength="93.3" lengthAdjust="spacing">1550</text>
<text x="2155.0" y="1347.3" font-size="41.3" textLength="93.3" lengthAdjust="spacing">1600</text>
<text x="2264.0" y="1347.3" font-size="41.3" textLength="93.3" lengthAdjust="spacing">1650</text>
<text x="2376.8" y="1347.3" font-size="41.3" textLength="95.5" lengthAdjust="spacing">1700</text>
<text x="1793.2" y="1403.6" font-size="50" textLength="413" lengthAdjust="spacing">Raman shift (cm<tspan font-size="31" dy="-20">-1</tspan><tspan dy="20">)</tspan></text>
<text transform="translate(1456.7,980.7) rotate(-90)" font-size="50" textLength="316" lengthAdjust="spacing">Intensity (a.u.)</text>
<text x="2182.3" y="464.8" font-size="69" style="fill:#111">G</text>
<text x="1686" y="1078.5" font-size="66" style="fill:#111">D</text>
<text x="1408" y="383.8" font-size="51" letter-spacing="2">(g)</text>
<rect x="1526.7" y="409" width="80.2" height="12.5" fill="#2e3f96"/>
<text x="1636" y="417.8" font-size="42.9" font-weight="bold" textLength="269" lengthAdjust="spacing" style="fill:#2b3390">As-grown EG</text>
<path d="M1543,453 h12 m5,0 h39" stroke="#dd2a2e" stroke-width="4.5" fill="none"/>
<text x="1634.4" y="479.2" font-size="42" font-weight="bold" textLength="360" lengthAdjust="spacing" style="fill:#c4161c">AlOx/Al<tspan font-size="26.04" dy="9.24">2</tspan><tspan dy="-9.24">O</tspan><tspan font-size="26.04" dy="9.24">3</tspan><tspan dy="-9.24"> 300 °C</tspan></text>
<path d="M1533,527.6 h5 m4,0 h11 m4,0 h11 m4,0 h21" stroke="#5e3434" stroke-width="7" fill="none"/>
<text x="1635.7" y="545.6" font-size="42" textLength="353.5" lengthAdjust="spacing" style="fill:#8a4648;stroke:#8a4648;stroke-width:0.9px">TiOx/Al<tspan font-size="26.04" dy="9.24">2</tspan><tspan dy="-9.24">O</tspan><tspan font-size="26.04" dy="9.24">3</tspan><tspan dy="-9.24"> 300 °C</tspan></text>
<rect x="1529" y="593.3" width="75.4" height="6" fill="#0a0a0a"/>
<text x="1634.4" y="617" font-size="42" font-weight="bold" textLength="357.5" lengthAdjust="spacing" style="fill:#0a0a0a">TaOx/Ta<tspan font-size="26.04" dy="9.24">2</tspan><tspan dy="-9.24">O</tspan><tspan font-size="26.04" dy="9.24">3</tspan><tspan dy="-9.24"> 300°C</tspan></text>
<path d="M1543.6,665 h23.7 m7.9,0 h23.7" stroke="#f58220" stroke-width="7" fill="none"/>
<text x="1635.7" y="678.5" font-size="42" font-weight="bold" textLength="335" lengthAdjust="spacing" style="fill:#fcb814">TiOx/TiO<tspan font-size="26.04" dy="9.24">2</tspan><tspan dy="-9.24"> 250 °C</tspan></text>
</g>
</g>
</svg></body></html>
